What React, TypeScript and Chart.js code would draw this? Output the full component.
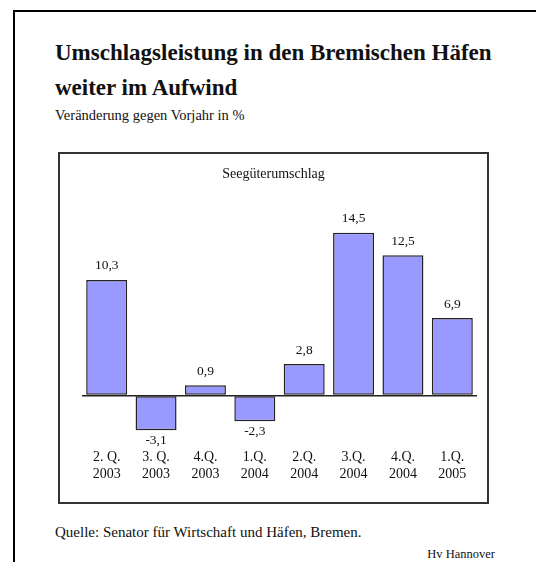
import React, { useEffect, useRef } from "react";
import { Chart, registerables } from "chart.js";

Chart.register(...registerables);

const quarterLabels: string[][] = [
  ["2. Q.", "2003"],
  ["3. Q.", "2003"],
  ["4.Q.", "2003"],
  ["1.Q.", "2004"],
  ["2.Q.", "2004"],
  ["3.Q.", "2004"],
  ["4.Q.", "2004"],
  ["1.Q.", "2005"],
];
const changeValues: number[] = [10.3, -3.1, 0.9, -2.3, 2.8, 14.5, 12.5, 6.9];

const FONT = "'Liberation Serif', 'Times New Roman', serif";

const valueLabelPlugin = {
  id: "valueLabels",
  afterDatasetsDraw(chart: any) {
    const ctx = chart.ctx;
    const meta = chart.getDatasetMeta(0);
    ctx.save();
    ctx.font = `13.5px ${FONT}`;
    ctx.fillStyle = "#111";
    ctx.textAlign = "center";
    ctx.textBaseline = "middle";
    meta.data.forEach((bar: any, i: number) => {
      const v = changeValues[i];
      const txt = v.toFixed(1).replace(".", ",");
      const y = v >= 0 ? bar.y - 14 : bar.y + 10;
      ctx.fillText(txt, bar.x, y);
    });
    ctx.restore();
  },
};

export default function App() {
  const canvasRef = useRef<HTMLCanvasElement | null>(null);

  useEffect(() => {
    if (!canvasRef.current) return;
    const chart = new Chart(canvasRef.current, {
      type: "bar",
      data: {
        labels: quarterLabels,
        datasets: [
          {
            data: changeValues,
            backgroundColor: "#9999ff",
            borderColor: "#222",
            borderWidth: 1.5,
            borderSkipped: false,
            barPercentage: 0.83,
            categoryPercentage: 1,
          },
        ],
      },
      options: {
        animation: false,
        responsive: false,
        maintainAspectRatio: false,
        layout: { padding: { left: 22, right: 10, top: 39.5, bottom: 9.7 } },
        plugins: {
          legend: { display: false },
          tooltip: { enabled: false },
          title: { display: false },
        },
        scales: {
          x: {
            grid: { display: false, drawTicks: false },
            border: { display: false },
            ticks: {
              color: "#111",
              padding: 9,
              maxRotation: 0,
              autoSkip: false,
              font: { family: FONT, size: 14, lineHeight: 17 / 14 },
            },
          },
          y: {
            min: -4,
            max: 18,
            grid: {
              drawTicks: false,
              lineWidth: 1.5,
              color: (c: any) => (c.tick && c.tick.value === 0 ? "#222" : "rgba(0,0,0,0)"),
            },
            border: { display: false },
            ticks: { display: false, stepSize: 2 },
          },
        },
      },
      plugins: [valueLabelPlugin],
    });
    return () => chart.destroy();
  }, []);

  const txt: React.CSSProperties = {
    position: "absolute",
    fontFamily: FONT,
    color: "#111",
    whiteSpace: "nowrap",
    margin: 0,
  };

  return (
    <div
      style={{
        position: "absolute",
        left: 0,
        top: 0,
        width: 536,
        height: 562,
        overflow: "hidden",
        background: "#fff",
      }}
    >
      <div
        style={{
          position: "absolute",
          left: 13,
          top: 10,
          width: 600,
          height: 600,
          borderTop: "2px solid #000",
          borderLeft: "2px solid #000",
        }}
      />
      <div style={{ ...txt, left: 55, top: 34.7, fontSize: 23, fontWeight: "bold", lineHeight: "35px" }}>
        Umschlagsleistung in den Bremischen Häfen
        <br />
        weiter im Aufwind
      </div>
      <div style={{ ...txt, left: 55, top: 106.6, fontSize: 14.5, lineHeight: "17px" }}>
        Veränderung gegen Vorjahr in %
      </div>
      <div
        style={{
          position: "absolute",
          left: 58,
          top: 152,
          width: 431,
          height: 352,
          boxSizing: "border-box",
          border: "2px solid #333",
        }}
      />
      <canvas
        ref={canvasRef}
        width={427}
        height={348}
        style={{ position: "absolute", left: 60, top: 154, width: 427, height: 348 }}
      />
      <div
        style={{
          ...txt,
          left: 60,
          width: 427,
          top: 165.6,
          fontSize: 14,
          lineHeight: "16px",
          textAlign: "center",
        }}
      >
        Seegüterumschlag
      </div>
      <div style={{ ...txt, left: 55, top: 524, fontSize: 15, lineHeight: "17px" }}>
        Quelle: Senator für Wirtschaft und Häfen, Bremen.
      </div>
      <div style={{ ...txt, right: 536 - 495, top: 546.8, fontSize: 12.5, lineHeight: "14px" }}>
        Hv Hannover
      </div>
    </div>
  );
}
